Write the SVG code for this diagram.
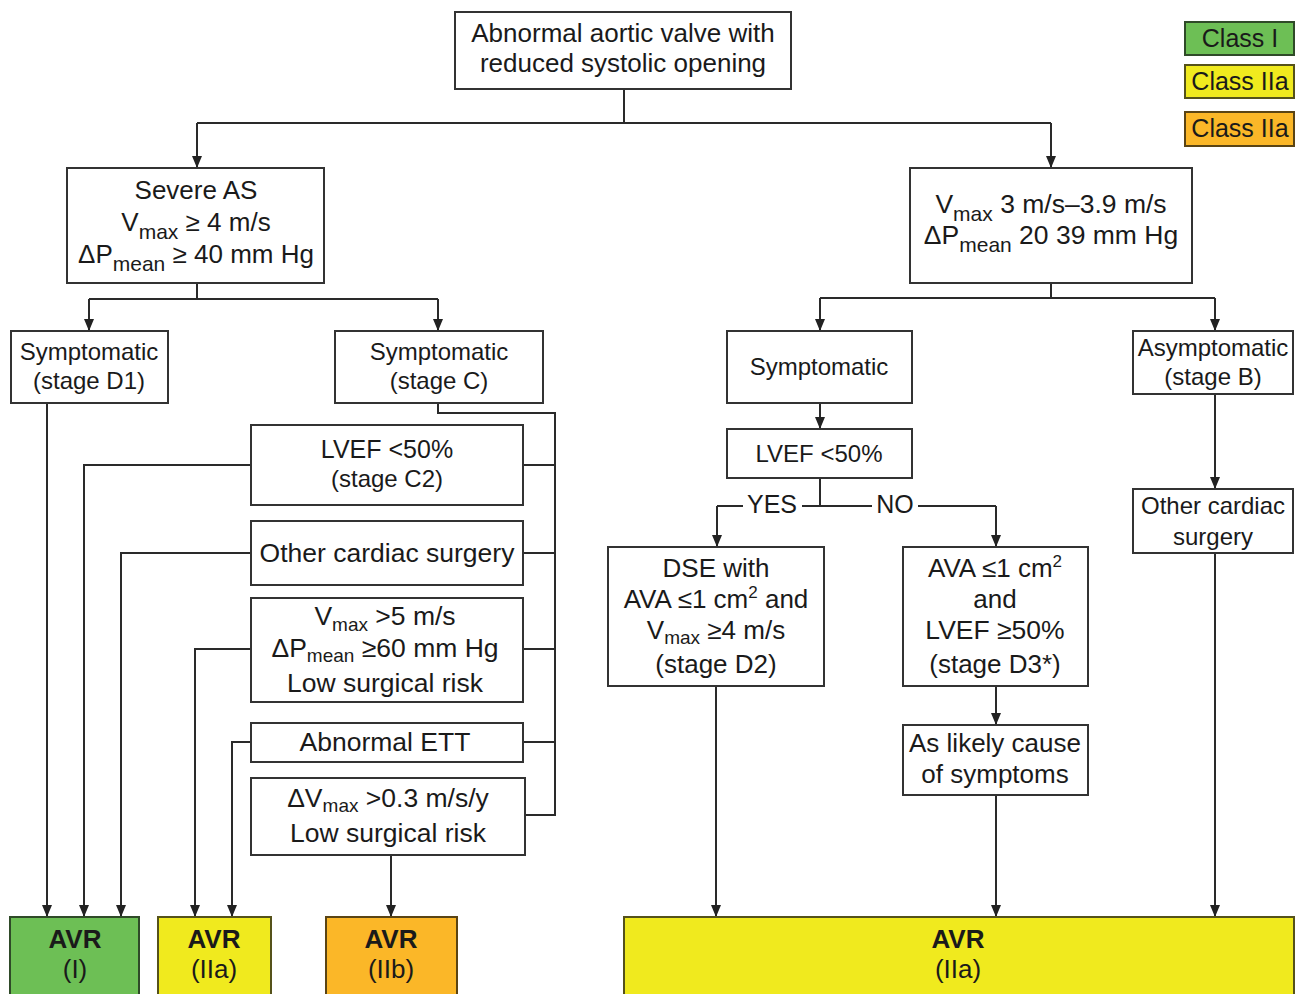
<svg xmlns="http://www.w3.org/2000/svg" width="1296" height="994" viewBox="0 0 1296 994">
<defs>
<marker id="arr" viewBox="0 0 12 10" refX="12" refY="5" markerWidth="12" markerHeight="10" orient="auto" markerUnits="userSpaceOnUse">
<path d="M0,0 L12,5 L0,10 z" fill="#222"/>
</marker>
<style>
.box{fill:#fff;stroke:#333;stroke-width:2}
.t{font-family:"Liberation Sans",Arial,Helvetica,sans-serif;font-size:26px;fill:#1a1a1a;text-anchor:middle}
.b{font-weight:bold}
.sub{font-size:21px}
.sub2{font-size:19px}
.sup{font-size:17px}
.f24{font-size:24px}
.f25{font-size:25px}
.f265{font-size:26.5px}
.c{fill:none;stroke:#2a2a2a;stroke-width:2}
.a{marker-end:url(#arr)}
.g{fill:#6dbf55;stroke:#2f4a28;stroke-width:2}
.y{fill:#f0ea1e;stroke:#55521a;stroke-width:2}
.o{fill:#fbb728;stroke:#5a4414;stroke-width:2}
</style>
</defs>
<rect width="1296" height="994" fill="#fff"/>

<g id="connectors">
<path class="c" d="M624,89 V123 M197,123 H1051"/>
<path class="c a" d="M197,123 V168"/>
<path class="c a" d="M1051,123 V168"/>
<path class="c" d="M197,283 V299 M89,299 H438"/>
<path class="c a" d="M89,299 V331"/>
<path class="c a" d="M438,299 V331"/>
<path class="c" d="M1051,283 V298 M820,298 H1215"/>
<path class="c a" d="M820,298 V331"/>
<path class="c a" d="M1215,298 V331"/>
<path class="c a" d="M47,403 V917"/>
<path class="c" d="M438,403 V413 H555 V815 H526 M523,465 H555 M523,553 H555 M523,649 H555 M523,742 H555"/>
<path class="c a" d="M251,465 H84 V917"/>
<path class="c a" d="M251,553 H121 V917"/>
<path class="c a" d="M251,649 H195 V917"/>
<path class="c a" d="M251,742 H232 V917"/>
<path class="c a" d="M391,855 V917"/>
<path class="c a" d="M820,403 V429"/>
<path class="c" d="M820,478 V506 M717,506 H743 M802,506 H872 M918,506 H996"/>
<path class="c a" d="M717,506 V547"/>
<path class="c a" d="M996,506 V547"/>
<path class="c a" d="M716,686 V917"/>
<path class="c a" d="M996,686 V725"/>
<path class="c a" d="M996,795 V917"/>
<path class="c a" d="M1215,394 V489"/>
<path class="c a" d="M1215,553 V917"/>
<text class="t f25" x="772" y="513">YES</text>
<text class="t f25" x="895" y="513">NO</text>
</g>

<g id="legend-class1">
<rect class="g" x="1185" y="22" width="109" height="33"/>
<text class="t f25" x="1240" y="47" fill="#1a2a16">Class I</text>
</g>
<g id="legend-class2a">
<rect class="y" x="1185" y="65" width="109" height="33"/>
<text class="t f25" x="1240" y="90">Class IIa</text>
</g>
<g id="legend-class2b">
<rect class="o" x="1185" y="112" width="109" height="34"/>
<text class="t f25" x="1240" y="137">Class IIa</text>
</g>

<g id="n-top">
<rect class="box" x="455" y="12" width="336" height="77"/>
<text class="t" x="623" y="42">Abnormal aortic valve with</text>
<text class="t" x="623" y="72">reduced systolic opening</text>
</g>

<g id="n-severe">
<rect class="box" x="67" y="168" width="257" height="115"/>
<text class="t" x="196" y="199">Severe AS</text>
<text class="t" x="196" y="231">V<tspan class="sub" dy="8">max</tspan><tspan dy="-8"> ≥ 4 m/s</tspan></text>
<text class="t" x="196" y="263">ΔP<tspan class="sub" dy="8">mean</tspan><tspan dy="-8"> ≥ 40 mm Hg</tspan></text>
</g>

<g id="n-moderate">
<rect class="box" x="910" y="168" width="282" height="115"/>
<text class="t f265" x="1051" y="213">V<tspan class="sub" dy="8">max</tspan><tspan dy="-8"> 3 m/s–3.9 m/s</tspan></text>
<text class="t f265" x="1051" y="244">ΔP<tspan class="sub" dy="8">mean</tspan><tspan dy="-8"> 20 39 mm Hg</tspan></text>
</g>

<g id="n-d1">
<rect class="box" x="11" y="331" width="157" height="72"/>
<text class="t f24" x="89" y="360">Symptomatic</text>
<text class="t f24" x="89" y="389">(stage D1)</text>
</g>

<g id="n-c">
<rect class="box" x="335" y="331" width="208" height="72"/>
<text class="t f24" x="439" y="360">Symptomatic</text>
<text class="t f24" x="439" y="389">(stage C)</text>
</g>

<g id="n-c2">
<rect class="box" x="251" y="425" width="272" height="80"/>
<text class="t f25" x="387" y="458">LVEF &lt;50%</text>
<text class="t f24" x="387" y="487">(stage C2)</text>
</g>

<g id="n-other-left">
<rect class="box" x="251" y="521" width="272" height="64"/>
<text class="t f265" x="387" y="562">Other cardiac surgery</text>
</g>

<g id="n-vmax5">
<rect class="box" x="251" y="598" width="272" height="104"/>
<text class="t f265" x="385" y="625">V<tspan class="sub2" dy="6">max</tspan><tspan dy="-6"> &gt;5 m/s</tspan></text>
<text class="t f265" x="385" y="657">ΔP<tspan class="sub2" dy="5">mean</tspan><tspan dy="-5"> ≥60 mm Hg</tspan></text>
<text class="t f265" x="385" y="692">Low surgical risk</text>
</g>

<g id="n-ett">
<rect class="box" x="251" y="723" width="272" height="39"/>
<text class="t f265" x="385" y="751">Abnormal ETT</text>
</g>

<g id="n-dvmax">
<rect class="box" x="251" y="778" width="274" height="77"/>
<text class="t f265" x="388" y="807">ΔV<tspan class="sub2" dy="5">max</tspan><tspan dy="-5"> &gt;0.3 m/s/y</tspan></text>
<text class="t f265" x="388" y="842">Low surgical risk</text>
</g>

<g id="n-symp-right">
<rect class="box" x="727" y="331" width="185" height="72"/>
<text class="t f24" x="819" y="375">Symptomatic</text>
</g>

<g id="n-asymp">
<rect class="box" x="1133" y="331" width="160" height="63"/>
<text class="t f24" x="1213" y="356">Asymptomatic</text>
<text class="t f24" x="1213" y="385">(stage B)</text>
</g>

<g id="n-lvef-right">
<rect class="box" x="727" y="429" width="185" height="49"/>
<text class="t f24" x="819" y="462">LVEF &lt;50%</text>
</g>

<g id="n-dse">
<rect class="box" x="608" y="547" width="216" height="139"/>
<text class="t" x="716" y="577">DSE with</text>
<text class="t" x="716" y="608">AVA ≤1 cm<tspan class="sup" dy="-10">2</tspan><tspan dy="10"> and</tspan></text>
<text class="t" x="716" y="639">V<tspan class="sub2" dy="5">max</tspan><tspan dy="-5"> ≥4 m/s</tspan></text>
<text class="t" x="716" y="673">(stage D2)</text>
</g>

<g id="n-ava">
<rect class="box" x="903" y="547" width="185" height="139"/>
<text class="t" x="995" y="577">AVA ≤1 cm<tspan class="sup" dy="-10">2</tspan></text>
<text class="t" x="995" y="608">and</text>
<text class="t f265" x="995" y="639">LVEF ≥50%</text>
<text class="t" x="995" y="673">(stage D3*)</text>
</g>

<g id="n-likely">
<rect class="box" x="903" y="725" width="185" height="70"/>
<text class="t" x="995" y="752">As likely cause</text>
<text class="t" x="995" y="783">of symptoms</text>
</g>

<g id="n-other-right">
<rect class="box" x="1133" y="489" width="160" height="64"/>
<text class="t f24" x="1213" y="514">Other cardiac</text>
<text class="t f24" x="1213" y="545">surgery</text>
</g>

<g id="n-avr1">
<rect class="g" x="10" y="917" width="129" height="80"/>
<text class="t b" x="75" y="948">AVR</text>
<text class="t" x="75" y="978">(I)</text>
</g>
<g id="n-avr2a">
<rect class="y" x="158" y="917" width="113" height="80"/>
<text class="t b" x="214" y="948">AVR</text>
<text class="t" x="214" y="978">(IIa)</text>
</g>
<g id="n-avr2b">
<rect class="o" x="326" y="917" width="131" height="80"/>
<text class="t b" x="391" y="948">AVR</text>
<text class="t" x="391" y="978">(IIb)</text>
</g>
<g id="n-avr2a-right">
<rect class="y" x="624" y="917" width="670" height="80"/>
<text class="t b" x="958" y="948">AVR</text>
<text class="t" x="958" y="978">(IIa)</text>
</g>
</svg>
